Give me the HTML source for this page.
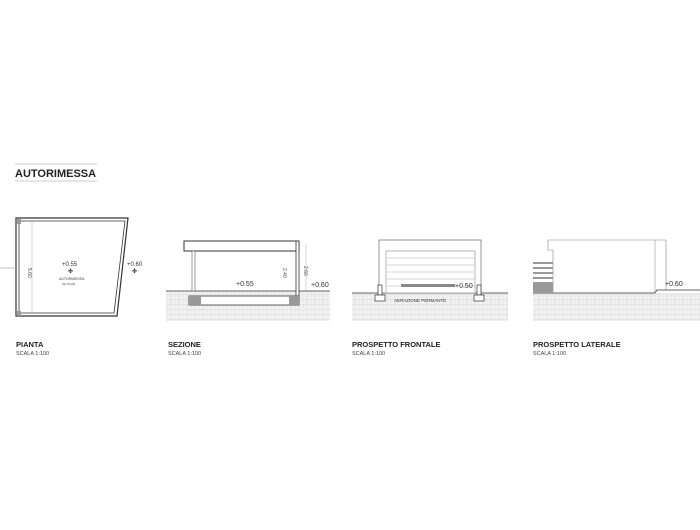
<!DOCTYPE html>
<html><head><style>
body{margin:0;background:#fff;width:700px;height:525px;overflow:hidden;font-family:"Liberation Sans",sans-serif}
</style></head><body>
<svg width="700" height="525" viewBox="0 0 700 525" xmlns="http://www.w3.org/2000/svg">
<defs>
<pattern id="h" width="8" height="5" patternUnits="userSpaceOnUse">
<rect width="8" height="5" fill="#f2f2f2"/>
<path d="M0 4.5H8M3 0V5M7 0V2.5" stroke="#d6d6d6" stroke-width="0.5"/>
</pattern>
</defs>
<g font-family="Liberation Sans, sans-serif">
<line x1="15" y1="164" x2="97" y2="164" stroke="#bbb" stroke-width="0.8"/>
<text x="15" y="177" font-size="11" font-weight="bold" fill="#222">AUTORIMESSA</text>
<line x1="15" y1="181" x2="97" y2="181" stroke="#bbb" stroke-width="0.8"/>

<!-- pianta -->
<polygon points="16,218 128,218 117,316 16,316" fill="none" stroke="#333" stroke-width="1.2"/>
<polygon points="19,221 125,221 114,313 19,313" fill="none" stroke="#333" stroke-width="0.8"/>
<rect x="17" y="219" width="4" height="5" fill="#999"/>
<rect x="17" y="311" width="4" height="5" fill="#999"/>
<line x1="32" y1="222" x2="32" y2="312" stroke="#bbb" stroke-width="0.6"/>
<line x1="0" y1="268" x2="16" y2="268" stroke="#999" stroke-width="0.6"/>
<text x="30" y="270" font-size="5" fill="#444" transform="rotate(90 30 268)">5.60</text>
<text x="62" y="266" font-size="6" fill="#333">+0.55</text>
<text x="68" y="273" font-size="6" fill="#333">✤</text>
<text x="59" y="280" font-size="3.5" fill="#444">AUTORIMESSA</text>
<text x="62" y="285" font-size="3" fill="#444">29.70 MQ</text>
<text x="127" y="266" font-size="6" fill="#333">+0.60</text>
<text x="132" y="273" font-size="6" fill="#333">✤</text>
<text x="16" y="347" font-size="7.5" font-weight="bold" fill="#222">PIANTA</text>
<text x="16" y="355" font-size="5.5" fill="#444">SCALA 1:100</text>

<!-- sezione -->
<rect x="166" y="291" width="164" height="30" fill="url(#h)"/>
<line x1="166" y1="291" x2="330" y2="291" stroke="#333" stroke-width="0.8"/>
<rect x="184" y="241" width="115" height="10" fill="#fff" stroke="#333" stroke-width="1"/>
<rect x="296" y="241" width="3" height="56" fill="#fff" stroke="#333" stroke-width="0.8"/>
<rect x="192" y="251" width="3" height="40" fill="#fff" stroke="#555" stroke-width="0.6"/>
<rect x="189" y="296" width="110" height="9" fill="#fff" stroke="#333" stroke-width="0.8"/>
<rect x="189" y="296" width="12" height="9" fill="#999"/>
<rect x="289" y="296" width="10" height="9" fill="#999"/>
<line x1="306" y1="245" x2="306" y2="291" stroke="#aaa" stroke-width="0.5"/>
<text x="283" y="268" font-size="5" fill="#444" transform="rotate(90 283 268)">2.40</text>
<text x="304" y="266" font-size="5" fill="#444" transform="rotate(90 304 266)">2.60</text>
<text x="236" y="286" font-size="7" fill="#333">+0.55</text>
<text x="311" y="287" font-size="7" fill="#333">+0.60</text>
<text x="168" y="347" font-size="7.5" font-weight="bold" fill="#222">SEZIONE</text>
<text x="168" y="355" font-size="5.5" fill="#444">SCALA 1:100</text>

<!-- prospetto frontale -->
<rect x="352" y="293" width="156" height="28" fill="url(#h)"/>
<line x1="352" y1="293" x2="508" y2="293" stroke="#333" stroke-width="0.8"/>
<rect x="379" y="240" width="102" height="53" fill="#fff" stroke="#666" stroke-width="0.7"/>
<rect x="386" y="251" width="89" height="42" fill="#fff" stroke="#888" stroke-width="0.6"/>
<g stroke="#aaa" stroke-width="0.5">
<line x1="387" y1="258" x2="474" y2="258"/><line x1="387" y1="265" x2="474" y2="265"/>
<line x1="387" y1="272" x2="474" y2="272"/><line x1="387" y1="279" x2="474" y2="279"/>
<line x1="387" y1="286" x2="474" y2="286"/>
</g>
<rect x="401" y="284" width="54" height="3" fill="#888"/>
<rect x="378" y="285" width="4" height="10" fill="#fff" stroke="#333" stroke-width="0.7"/>
<rect x="375" y="295" width="10" height="6" fill="#fff" stroke="#333" stroke-width="0.7"/>
<rect x="477" y="285" width="4" height="10" fill="#fff" stroke="#333" stroke-width="0.7"/>
<rect x="474" y="295" width="10" height="6" fill="#fff" stroke="#333" stroke-width="0.7"/>
<text x="455" y="288" font-size="7" fill="#333">+0.50</text>
<text x="394" y="302" font-size="4.5" fill="#333">AERAZIONE PERMANTE</text>
<text x="352" y="347" font-size="7.5" font-weight="bold" fill="#222">PROSPETTO FRONTALE</text>
<text x="352" y="355" font-size="5.5" fill="#444">SCALA 1:100</text>

<!-- prospetto laterale -->
<rect x="533" y="293" width="167" height="28" fill="url(#h)"/>
<polyline points="533,293 655,293 657,290 700,290" fill="none" stroke="#333" stroke-width="0.8"/>
<polyline points="553,293 553,250 548,250 548,240 666,240 666,290" fill="none" stroke="#888" stroke-width="0.6"/>
<line x1="655" y1="240" x2="655" y2="293" stroke="#999" stroke-width="0.6"/>
<g fill="#999"><rect x="533" y="262" width="20" height="2"/><rect x="533" y="267" width="20" height="2"/><rect x="533" y="272" width="20" height="2"/><rect x="533" y="277" width="20" height="2"/><rect x="533" y="282" width="20" height="11"/></g>
<text x="665" y="286" font-size="7" fill="#333">+0.60</text>
<text x="533" y="347" font-size="7.5" font-weight="bold" fill="#222">PROSPETTO LATERALE</text>
<text x="533" y="355" font-size="5.5" fill="#444">SCALA 1:100</text>
</g>
</svg>
</body></html>
